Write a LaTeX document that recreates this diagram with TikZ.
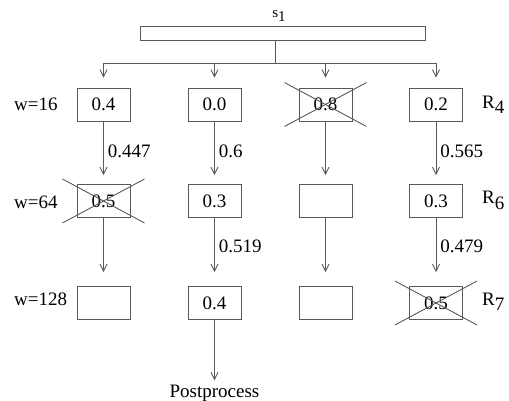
\documentclass[tikz,border=0pt]{standalone}
\usepackage{fontspec}
\setmainfont{Liberation Serif}
\usetikzlibrary{arrows.meta,calc}
\begin{document}
\begin{tikzpicture}[x=1pt,y=-1pt,
  ln/.style={draw=black!65, line width=0.9pt},
  arr/.style={ln, -{Straight Barb[length=7pt,width=7pt]}},
  box/.style={ln, minimum width=53pt, minimum height=33pt, inner sep=0pt, font=\fontsize{19}{19}\selectfont},
  lbl/.style={inner sep=0pt, font=\fontsize{19}{19}\selectfont},
  elbl/.style={lbl, right, xshift=4pt},
  xmark/.style={ln}
]
\useasboundingbox (0,0) rectangle (509,400);

% top bar
\node[lbl, font=\fontsize{15}{15}\selectfont, anchor=base] (s1) at (279,17) {s\raisebox{-4pt}{1}};
\node[ln, minimum width=285pt, minimum height=14pt, inner sep=0pt] (bar) at (282.5,33) {};
\coordinate (stem) at (275,63);
\coordinate (h1) at (103.5,63);
\coordinate (h2) at (214.5,63);
\coordinate (h3) at (325.5,63);
\coordinate (h4) at (436,63);

% boxes
\node[box] (b11) at (103.5,104.5) {0.4};
\node[box] (b12) at (214.5,104.5) {0.0};
\node[box] (b13) at (325.5,104.5) {0.8};
\node[box] (b14) at (436,104.5) {0.2};
\node[box] (b21) at (103.5,201) {0.5};
\node[box] (b22) at (214.5,201) {0.3};
\node[box] (b23) at (325.5,201) {};
\node[box] (b24) at (436,201) {0.3};
\node[box] (b31) at (103.5,303) {};
\node[box] (b32) at (214.5,303) {0.4};
\node[box] (b33) at (325.5,303) {};
\node[box] (b34) at (436,303) {0.5};
\node[lbl, anchor=base] (post) at (214.5,397) {Postprocess};

% row labels
\node[lbl, anchor=base west] (w16) at (14,110) {w=16};
\node[lbl, anchor=base west] (w64) at (14,208) {w=64};
\node[lbl, anchor=base west] (w128) at (14,305) {w=128};
\node[lbl, anchor=base west] (r4) at (482,108) {R\raisebox{-5pt}{4}};
\node[lbl, anchor=base west] (r6) at (482,203) {R\raisebox{-6pt}{6}};
\node[lbl, anchor=base west] (r7) at (482,305) {R\raisebox{-5pt}{7}};

% top connectors
\draw[ln] (stem |- bar.south) -- (stem);
\draw[ln] (h1) -- (h4);
\draw[arr, shorten >=10pt] (h1) -- (b11.north);
\draw[arr, shorten >=10pt] (h2) -- (b12.north);
\draw[arr, shorten >=10pt] (h3) -- (b13.north);
\draw[arr, shorten >=10pt] (h4) -- (b14.north);

% row 1 -> row 2
\draw[arr, shorten >=9pt] (b11.south) -- (b21.north) node[elbl, pos=0.48] {0.447};
\draw[arr, shorten >=9pt] (b12.south) -- (b22.north) node[elbl, pos=0.48] {0.6};
\draw[arr, shorten >=9pt] (b13.south) -- (b23.north);
\draw[arr, shorten >=9pt] (b14.south) -- (b24.north) node[elbl, pos=0.48] {0.565};

% row 2 -> row 3
\draw[arr, shorten >=14pt] (b21.south) -- (b31.north);
\draw[arr, shorten >=14pt] (b22.south) -- (b32.north) node[elbl, pos=0.42] {0.519};
\draw[arr, shorten >=14pt] (b23.south) -- (b33.north);
\draw[arr, shorten >=14pt] (b24.south) -- (b34.north) node[elbl, pos=0.41] {0.479};

% to postprocess
\draw[arr, shorten >=4pt] (b32.south) -- (post.north);

% crosses
\foreach \b in {b13,b21,b34}{
  \draw[xmark] ($(\b.north west)+(-14,-5)$) -- ($(\b.south east)+(14,5)$);
  \draw[xmark] ($(\b.north east)+(14,-5)$) -- ($(\b.south west)+(-14,5)$);
}
\end{tikzpicture}
\end{document}
